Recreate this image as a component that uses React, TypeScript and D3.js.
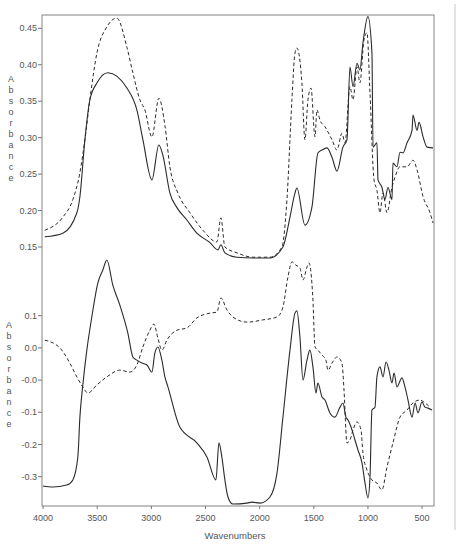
import React from "react";
import * as d3 from "d3";

// [wavenumber (cm-1), absorbance]
const topSolid: [number, number][] = [
  [3984, 0.164], [3817, 0.169], [3688, 0.197], [3660, 0.219], [3614, 0.297], [3568, 0.352],
  [3503, 0.375], [3402, 0.389], [3226, 0.368], [3134, 0.338], [3078, 0.297], [2995, 0.242],
  [2931, 0.29], [2894, 0.276], [2829, 0.224], [2764, 0.204], [2672, 0.187], [2580, 0.169],
  [2459, 0.156], [2385, 0.146], [2358, 0.153], [2321, 0.142], [2210, 0.136], [2062, 0.135],
  [1905, 0.135], [1785, 0.15], [1720, 0.191], [1674, 0.224], [1656, 0.231], [1582, 0.18],
  [1517, 0.205], [1462, 0.279], [1425, 0.283], [1378, 0.286], [1332, 0.273], [1286, 0.254],
  [1231, 0.287], [1194, 0.297], [1166, 0.397], [1138, 0.37], [1101, 0.402], [1074, 0.393],
  [1046, 0.43], [1000, 0.466], [963, 0.416], [953, 0.287], [917, 0.293], [907, 0.242],
  [871, 0.232], [843, 0.215], [815, 0.232], [778, 0.215], [769, 0.265], [732, 0.26],
  [704, 0.28], [676, 0.279], [639, 0.293], [593, 0.31], [584, 0.331], [547, 0.31],
  [528, 0.321], [491, 0.301], [454, 0.287], [399, 0.286],
];

const topDashed: [number, number][] = [
  [3984, 0.173], [3817, 0.191], [3725, 0.215], [3660, 0.252], [3614, 0.297], [3568, 0.352],
  [3503, 0.416], [3411, 0.452], [3319, 0.464], [3226, 0.424], [3171, 0.389], [3106, 0.352],
  [3060, 0.338], [2995, 0.301], [2931, 0.354], [2875, 0.317], [2829, 0.26], [2755, 0.224],
  [2644, 0.197], [2524, 0.173], [2395, 0.157], [2358, 0.19], [2321, 0.15], [2210, 0.142],
  [2062, 0.136], [1905, 0.136], [1794, 0.15], [1748, 0.215], [1702, 0.352], [1674, 0.416],
  [1656, 0.423], [1610, 0.375], [1582, 0.297], [1554, 0.352], [1526, 0.368], [1489, 0.301],
  [1471, 0.338], [1443, 0.324], [1397, 0.315], [1332, 0.297], [1286, 0.283], [1240, 0.306],
  [1212, 0.293], [1166, 0.37], [1138, 0.352], [1101, 0.397], [1074, 0.375], [1037, 0.434],
  [1009, 0.444], [981, 0.361], [944, 0.242], [917, 0.228], [889, 0.197], [861, 0.224],
  [824, 0.197], [778, 0.232], [750, 0.246], [704, 0.26], [639, 0.26], [584, 0.269],
  [547, 0.256], [491, 0.219], [427, 0.197], [399, 0.183],
];

const bottomSolid: [number, number][] = [
  [4002, -0.379], [3910, -0.382], [3781, -0.376], [3725, -0.36], [3679, -0.289], [3660, -0.165],
  [3633, -0.065], [3596, 0.043], [3550, 0.146], [3494, 0.252], [3448, 0.292], [3411, 0.323],
  [3356, 0.245], [3291, 0.183], [3217, 0.096], [3171, 0.022], [3134, 0.012], [3088, 0.003],
  [3041, -0.003], [2995, -0.025], [2968, 0.034], [2940, 0.053], [2903, 0.012], [2875, -0.04],
  [2847, -0.071], [2737, -0.196], [2580, -0.245], [2487, -0.289], [2404, -0.36], [2376, -0.245],
  [2349, -0.289], [2321, -0.36], [2293, -0.413], [2247, -0.435], [2118, -0.432], [2071, -0.429],
  [1997, -0.432], [1905, -0.413], [1840, -0.339], [1785, -0.165], [1720, 0.043], [1674, 0.158],
  [1656, 0.165], [1628, 0.084], [1600, -0.05], [1563, 0.012], [1536, 0.043], [1508, -0.009],
  [1480, -0.09], [1462, -0.059], [1425, -0.102], [1397, -0.112], [1351, -0.152], [1305, -0.165],
  [1258, -0.134], [1231, -0.121], [1203, -0.165], [1184, -0.174], [1147, -0.205], [1120, -0.236],
  [1092, -0.267], [1055, -0.307], [1027, -0.37], [1000, -0.416], [981, -0.351], [963, -0.143],
  [935, -0.134], [917, -0.04], [889, -0.009], [861, -0.04], [833, 0.006], [806, -0.019],
  [778, -0.059], [759, -0.028], [732, -0.071], [686, -0.043], [658, -0.071], [630, -0.112],
  [593, -0.165], [565, -0.121], [538, -0.152], [501, -0.118], [473, -0.134], [445, -0.137],
  [408, -0.143],
];

const bottomDashed: [number, number][] = [
  [3984, 0.074], [3845, 0.05], [3753, 0.003], [3688, -0.04], [3633, -0.071], [3587, -0.09],
  [3503, -0.065], [3411, -0.04], [3291, -0.019], [3198, -0.025], [3134, -0.003], [3078, 0.053],
  [3014, 0.105], [2977, 0.124], [2940, 0.081], [2903, 0.043], [2857, 0.074], [2764, 0.105],
  [2672, 0.112], [2580, 0.143], [2459, 0.158], [2395, 0.161], [2358, 0.205], [2302, 0.168],
  [2247, 0.146], [2118, 0.13], [1970, 0.137], [1840, 0.146], [1785, 0.177], [1739, 0.27],
  [1702, 0.317], [1665, 0.307], [1628, 0.298], [1600, 0.261], [1563, 0.301], [1545, 0.314],
  [1508, 0.199], [1489, 0.053], [1462, 0.043], [1425, 0.028], [1388, 0.012], [1369, -0.019],
  [1332, 0.003], [1286, 0.022], [1240, 0.003], [1221, -0.081], [1194, -0.245], [1166, -0.236],
  [1138, -0.205], [1101, -0.18], [1064, -0.205], [1046, -0.277], [1009, -0.329], [963, -0.36],
  [917, -0.37], [871, -0.391], [824, -0.32], [769, -0.245], [704, -0.165], [639, -0.143],
  [584, -0.121], [519, -0.112], [473, -0.121], [427, -0.134],
];

const xTicks = [4000, 3500, 3000, 2500, 2000, 1500, 1000, 500];
const topTicks = [0.45, 0.4, 0.35, 0.3, 0.25, 0.2, 0.15];
const topTickLabels = ["0.45", "0.40", "0.35", "0.30", "0.25", "0.20", "0.15"];
const bottomTicks = [0.15, 0.05, -0.05, -0.15, -0.25, -0.35];
const bottomTickLabels = ["0.1", "0.0", "-0.0", "-0.1", "-0.2", "-0.3"];
const yTitle = "Absorbance";
const xTitle = "Wavenumbers";

export default function App() {
  const W = 462;
  const H = 550;
  const left = 42;
  const right = 434;
  const top = 15;
  const bottom = 506;

  const x = d3.scaleLinear().domain([4010, 390]).range([left, right]);
  const yTop = d3.scaleLinear().domain([0.15, 0.45]).range([247, 28.3]);
  const yBot = d3.scaleLinear().domain([-0.35, 0.15]).range([476.7, 315.7]);

  const lineTop = d3
    .line<[number, number]>()
    .x((d) => x(d[0]))
    .y((d) => yTop(d[1]))
    .curve(d3.curveMonotoneX);
  const lineBot = d3
    .line<[number, number]>()
    .x((d) => x(d[0]))
    .y((d) => yBot(d[1]))
    .curve(d3.curveMonotoneX);

  const ink = "#2a2a2a";
  const axisCol = "#777";
  const textCol = "#555";
  const font = "Liberation Sans, Arial, sans-serif";
  const letters = yTitle.split("");

  return (
    <svg width={W} height={H} style={{ display: "block", position: "absolute", left: 0, top: 0 }}>
      <rect x={0} y={0} width={W} height={H} fill="#fff" />
      {/* page edge */}
      <line x1={455} x2={455} y1={4} y2={530} stroke="#c8c8c8" strokeWidth={1} />
      {/* frame */}
      <rect x={left} y={top} width={right - left} height={bottom - top} fill="none" stroke={axisCol} strokeWidth={0.9} />

      {/* x ticks */}
      {xTicks.map((t) => (
        <g key={t}>
          <line x1={x(t)} x2={x(t)} y1={bottom} y2={bottom + 3} stroke={axisCol} />
          <text x={x(t)} y={521} fontSize={9} fill={textCol} textAnchor="middle" fontFamily={font}>
            {t}
          </text>
        </g>
      ))}
      <text x={235} y={539} fontSize={9.5} fill={textCol} textAnchor="middle" fontFamily={font}>
        {xTitle}
      </text>

      {/* top y ticks */}
      {topTicks.map((t, i) => (
        <g key={"t" + i}>
          <line x1={left - 4} x2={left} y1={yTop(t)} y2={yTop(t)} stroke={axisCol} />
          <text x={left - 5} y={yTop(t) + 3} fontSize={9} fill={textCol} textAnchor="end" fontFamily={font}>
            {topTickLabels[i]}
          </text>
        </g>
      ))}
      {/* bottom y ticks */}
      {bottomTicks.map((t, i) => (
        <g key={"b" + i}>
          <line x1={left - 4} x2={left} y1={yBot(t)} y2={yBot(t)} stroke={axisCol} />
          <text x={left - 5} y={yBot(t) + 3} fontSize={9} fill={textCol} textAnchor="end" fontFamily={font}>
            {bottomTickLabels[i]}
          </text>
        </g>
      ))}

      {/* stacked y titles */}
      {letters.map((c, i) => (
        <text key={"yt" + i} x={11} y={82 + i * 11} fontSize={9} fill={textCol} textAnchor="middle" fontFamily={font}>
          {c}
        </text>
      ))}
      {letters.map((c, i) => (
        <text key={"yb" + i} x={9} y={328 + i * 11} fontSize={9} fill={textCol} textAnchor="middle" fontFamily={font}>
          {c}
        </text>
      ))}

      {/* spectra */}
      <path d={lineTop(topDashed) || ""} fill="none" stroke={ink} strokeWidth={1} strokeDasharray="3.5,2.5" />
      <path d={lineTop(topSolid) || ""} fill="none" stroke={ink} strokeWidth={1.1} />
      <path d={lineBot(bottomDashed) || ""} fill="none" stroke={ink} strokeWidth={1} strokeDasharray="3.5,2.5" />
      <path d={lineBot(bottomSolid) || ""} fill="none" stroke={ink} strokeWidth={1.1} />
    </svg>
  );
}
